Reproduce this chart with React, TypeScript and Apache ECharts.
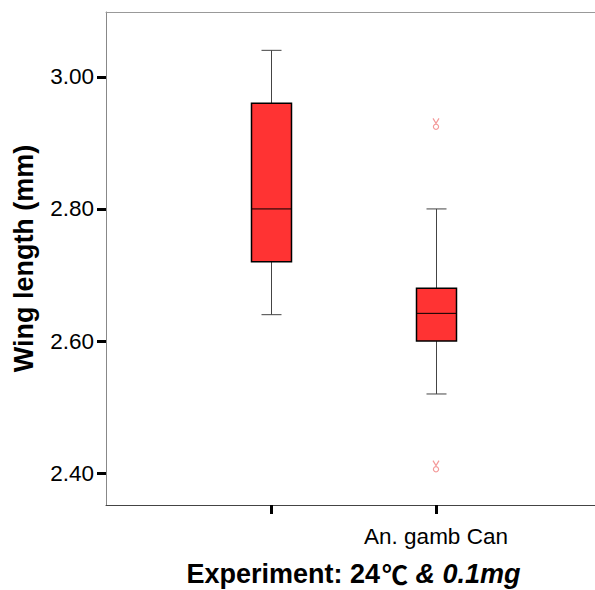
import React, { useEffect, useRef } from "react";
import * as echarts from "echarts";

const categories = ["An. gamb Pr", "An. gamb Can"];
const whiskerLow = [2.64, 2.52];
const q1 = [2.72, 2.6];
const median = [2.8, 2.642];
const q3 = [2.96, 2.68];
const whiskerHigh = [3.04, 2.8];
const outlierCategory = ["An. gamb Can", "An. gamb Can"];
const outlierValues = [2.928, 2.41];
const yTicks = [2.4, 2.6, 2.8, 3.0];

const Y_MIN = 2.352;
const Y_MAX = 3.098;
const FONT = "'Liberation Sans', Arial, sans-serif";

export default function App() {
  const ref = useRef<HTMLDivElement>(null);
  useEffect(() => {
    if (!ref.current) return;
    document.body.style.margin = "0";
    const chart = echarts.init(ref.current, null, { renderer: "svg" });
    const axisCats = ["", ...categories, ""];
    const boxData = categories.map((c, i) => [
      i + 1,
      whiskerLow[i],
      q1[i],
      median[i],
      q3[i],
      whiskerHigh[i],
    ]);
    const outData = outlierValues.map((v, i) => [
      categories.indexOf(outlierCategory[i]) + 1,
      v,
    ]);
    chart.setOption({
      animation: false,
      grid: {
        left: 106,
        top: 12,
        width: 495,
        bottom: 85,
        show: false,
        containLabel: false,
        outerBoundsMode: "none",
      },
      xAxis: [
        {
          type: "category",
          data: axisCats,
          boundaryGap: false,
          name: "{a|Experiment: 24}{c|℃}{b| & 0.1mg}",
          nameLocation: "middle",
          nameGap: 55,
          nameTextStyle: {
            rich: {
              a: { fontSize: 27, fontWeight: "bold", fontFamily: FONT, color: "#000" },
              c: {
                fontSize: 26,
                fontWeight: "bold",
                fontFamily: "'Noto Sans CJK SC', sans-serif",
                color: "#000",
                padding: [0, 0, 0, 2],
              },
              b: {
                fontSize: 27,
                fontWeight: "bold",
                fontStyle: "italic",
                fontFamily: FONT,
                color: "#000",
              },
            },
          },
          axisLine: { show: true, lineStyle: { color: "#444", width: 1 } },
          axisTick: { show: false },
          axisLabel: {
            fontSize: 22.5,
            fontFamily: FONT,
            color: "#000",
            margin: 20,
          },
          splitLine: { show: false },
        },
        {
          type: "category",
          data: axisCats,
          boundaryGap: false,
          position: "top",
          axisLine: { show: true, lineStyle: { color: "#999", width: 1 } },
          axisTick: { show: false },
          axisLabel: { show: false },
          splitLine: { show: false },
        },
      ],
      yAxis: {
        type: "value",
        min: Y_MIN,
        max: Y_MAX,
        name: "Wing length (mm)",
        nameLocation: "middle",
        nameGap: 69,
        nameTextStyle: {
          fontSize: 27,
          fontWeight: "bold",
          fontFamily: FONT,
          color: "#000",
        },
        axisLine: { show: true, lineStyle: { color: "#888", width: 1 } },
        axisTick: {
          show: true,
          length: 9,
          customValues: yTicks,
          lineStyle: { color: "#000", width: 3 },
        },
        axisLabel: {
          customValues: yTicks,
          formatter: (v: number) => v.toFixed(2),
          fontSize: 22.5,
          fontFamily: FONT,
          color: "#000",
          margin: 12,
        },
        splitLine: { show: false },
      },
      series: [
        {
          type: "custom",
          data: boxData,
          encode: { x: 0, y: [1, 2, 3, 4, 5] },
          renderItem: (params: any, api: any) => {
            const x = api.value(0);
            const lo = api.coord([x, api.value(1)]);
            const b1 = api.coord([x, api.value(2)]);
            const md = api.coord([x, api.value(3)]);
            const b3 = api.coord([x, api.value(4)]);
            const hi = api.coord([x, api.value(5)]);
            const base = api.coord([x, Y_MIN]);
            const cx = Math.round(lo[0]) + 0.5;
            const half = 20;
            const cap = 10;
            const wStyle = { stroke: "#444", lineWidth: 1 };
            return {
              type: "group",
              children: [
                {
                  type: "rect",
                  shape: { x: Math.round(lo[0]) - 1, y: Math.round(base[1]), width: 3, height: 9 },
                  style: { fill: "#000" },
                },
                { type: "line", shape: { x1: cx, y1: hi[1], x2: cx, y2: b3[1] }, style: wStyle },
                { type: "line", shape: { x1: cx, y1: b1[1], x2: cx, y2: lo[1] }, style: wStyle },
                { type: "line", shape: { x1: cx - cap, y1: hi[1], x2: cx + cap, y2: hi[1] }, style: wStyle },
                { type: "line", shape: { x1: cx - cap, y1: lo[1], x2: cx + cap, y2: lo[1] }, style: wStyle },
                {
                  type: "rect",
                  shape: { x: cx - half, y: b3[1], width: half * 2, height: b1[1] - b3[1] },
                  style: { fill: "#ff3333", stroke: "#000", lineWidth: 1.5 },
                },
                {
                  type: "line",
                  shape: { x1: cx - half, y1: md[1], x2: cx + half, y2: md[1] },
                  style: { stroke: "#000", lineWidth: 1 },
                },
              ],
            };
          },
          z: 3,
        },
        {
          type: "custom",
          data: outData,
          encode: { x: 0, y: 1 },
          renderItem: (params: any, api: any) => {
            const p = api.coord([api.value(0), api.value(1)]);
            const st = { stroke: "#f49a9a", lineWidth: 1.2, fill: "none" };
            return {
              type: "group",
              children: [
                {
                  type: "polyline",
                  shape: { points: [[p[0] - 3, p[1] - 6], [p[0], p[1] - 1], [p[0] + 3, p[1] - 6]] },
                  style: st,
                },
                { type: "circle", shape: { cx: p[0], cy: p[1] + 2.5, r: 2.6 }, style: st },
              ],
            };
          },
          z: 4,
        },
      ],
    });
    return () => chart.dispose();
  }, []);
  return (
    <div
      ref={ref}
      style={{ width: 595, height: 590, position: "absolute", left: 0, top: 0, background: "#fff" }}
    />
  );
}
